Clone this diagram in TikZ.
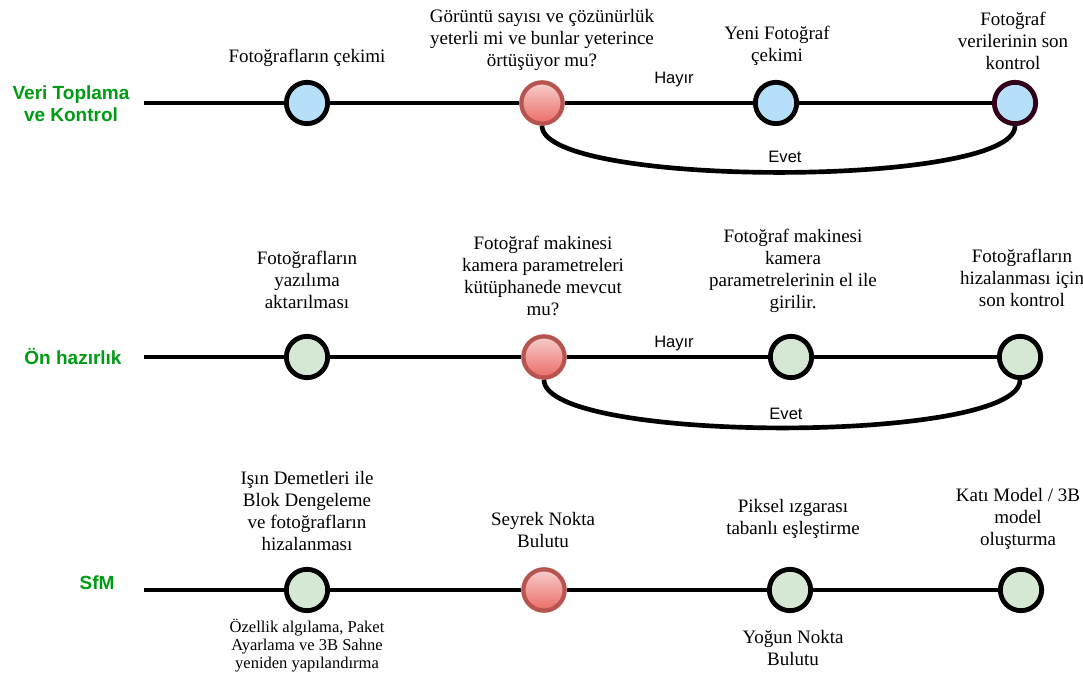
\documentclass[tikz,border=0pt]{standalone}
\usepackage{fontspec}
\setmainfont{Liberation Serif}
\newfontfamily\arialfont{Liberation Sans}
\definecolor{lblgreen}{RGB}{0,155,20}
\definecolor{cblue}{HTML}{B6E0F9}
\definecolor{cgreen}{HTML}{D5E8D4}
\definecolor{redtop}{HTML}{F8CECC}
\definecolor{redbot}{HTML}{EA6B66}
\definecolor{redline}{HTML}{B85450}
\definecolor{darkmaroon}{HTML}{33001A}
\begin{document}
\begin{tikzpicture}[x=0.75pt,y=-0.75pt,
  pt/.style={circle, minimum size=31pt, inner sep=0pt, line width=3.6pt, draw=black},
  bluept/.style={pt, fill=cblue},
  greenpt/.style={pt, fill=cgreen},
  redpt/.style={pt, draw=redline, top color=redtop, bottom color=redbot, line width=3.2pt},
  tline/.style={line width=3.3pt},
  thinline/.style={line width=2.7pt},
  curve/.style={line width=3.5pt},
  txt/.style={font=\fontsize{14.25pt}{16.5pt}\selectfont, align=center, inner sep=0pt},
  small/.style={font=\fontsize{12.4pt}{13.5pt}\selectfont, align=center, inner sep=0pt},
  lbl/.style={font=\arialfont\bfseries\fontsize{14.25pt}{16.5pt}\selectfont, text=lblgreen, align=center, inner sep=0pt},
  yn/.style={font=\arialfont\fontsize{12.4pt}{14pt}\selectfont, inner sep=0pt}]
\useasboundingbox (0,0) rectangle (1083,677);

% ---------- Row 1 ----------
\node[lbl] (l1) at (71,104) {Veri Toplama\\ve Kontrol};
\coordinate (a0) at (144,103);
\node[bluept] (a1) at (307,103) {};
\node[redpt] (a2) at (542,103) {};
\node[bluept] (a3) at (776,103) {};
\node[bluept, draw=darkmaroon] (a4) at (1015,103) {};
\draw[tline] (a0) -- (a1) (a1) -- (a2) (a2) -- (a3) (a3) -- (a4);
\draw[curve] (a2.south) .. controls +(0,62) and +(0,62) .. (a4.south);
\node[yn] (h1) at (674,80) {Hayır};
\node[yn] (e1) at (785,157) {Evet};
\node[txt] (t11) at (307,58) {Fotoğrafların çekimi};
\node[txt] (t12) at (542,40) {Görüntü sayısı ve çözünürlük\\yeterli mi ve bunlar yeterince\\örtüşüyor mu?};
\node[txt] (t13) at (777,46) {Yeni Fotoğraf\\çekimi};
\node[txt] (t14) at (1013,41) {Fotoğraf\\verilerinin son\\kontrol};

% ---------- Row 2 ----------
\node[lbl] (l2) at (73,356) {Ön hazırlık};
\coordinate (b0) at (144,357);
\node[greenpt] (b1) at (307,357) {};
\node[redpt] (b2) at (544,357) {};
\node[greenpt] (b3) at (791,357) {};
\node[greenpt] (b4) at (1020,357) {};
\draw[tline] (b0) -- (b1) (b1) -- (b2) (b2) -- (b3);
\draw[thinline] (b3) -- (b4);
\draw[curve] (b2.south) .. controls +(0,64) and +(0,64) .. (b4.south);
\node[yn] (h2) at (674,344) {Hayır};
\node[yn] (e2) at (786,414) {Evet};
\node[txt] (t21) at (307,280) {Fotoğrafların\\yazılıma\\aktarılması};
\node[txt] (t22) at (543,276) {Fotoğraf makinesi\\kamera parametreleri\\kütüphanede mevcut\\mu?};
\node[txt] (t23) at (793,271) {Fotoğraf makinesi\\kamera\\parametrelerinin el ile\\girilir.};
\node[txt] (t24) at (1022,278) {Fotoğrafların\\hizalanması için\\son kontrol};

% ---------- Row 3 ----------
\node[lbl] (l3) at (97,583) {SfM};
\coordinate (c0) at (144,590);
\node[greenpt] (c1) at (307,590) {};
\node[redpt] (c2) at (544,590) {};
\node[greenpt] (c3) at (790,590) {};
\node[greenpt] (c4) at (1021,590) {};
\draw[tline] (c0) -- (c1) (c1) -- (c2) (c2) -- (c3);
\draw[thinline] (c3) -- (c4);
\node[txt] (t31) at (307,511) {Işın Demetleri ile\\Blok Dengeleme\\ve fotoğrafların\\hizalanması};
\node[txt] (t32) at (543,530) {Seyrek Nokta\\Bulutu};
\node[txt] (t33) at (793,519) {Piksel ızgarası\\tabanlı eşleştirme};
\node[txt] (t34) at (1018,519) {Katı Model / 3B\\model\\oluşturma};
\node[small] (t35) at (307,646) {Özellik algılama, Paket\\Ayarlama ve 3B Sahne\\yeniden yapılandırma};
\node[txt] (t36) at (793,648) {Yoğun Nokta\\Bulutu};
\end{tikzpicture}
\end{document}
